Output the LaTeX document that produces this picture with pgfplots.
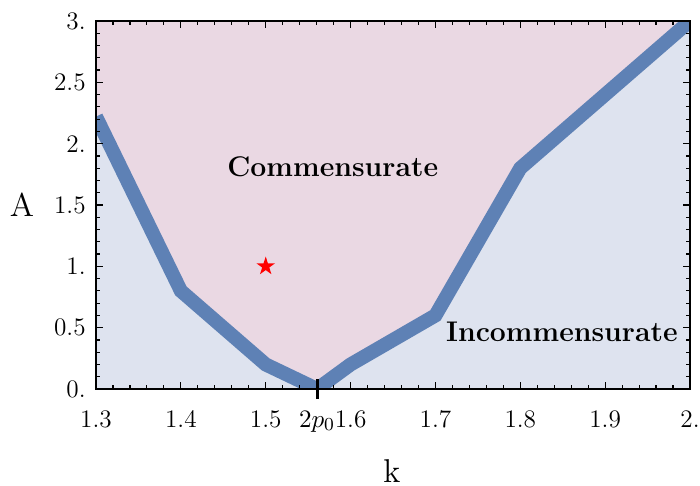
\documentclass[border=0pt]{standalone}
\usepackage{pgfplots}
\pgfplotsset{compat=1.18}
\usetikzlibrary{calc}

\definecolor{linecol}{RGB}{94,129,181}
\definecolor{pinkreg}{RGB}{234,216,227}
\definecolor{bluereg}{RGB}{222,227,239}

% filled five-point star
\pgfdeclareplotmark{fstar}{%
  \pgfpathmoveto{\pgfpointpolar{90}{\pgfplotmarksize}}%
  \pgfpathlineto{\pgfpointpolar{126}{0.382\pgfplotmarksize}}%
  \pgfpathlineto{\pgfpointpolar{162}{\pgfplotmarksize}}%
  \pgfpathlineto{\pgfpointpolar{198}{0.382\pgfplotmarksize}}%
  \pgfpathlineto{\pgfpointpolar{234}{\pgfplotmarksize}}%
  \pgfpathlineto{\pgfpointpolar{270}{0.382\pgfplotmarksize}}%
  \pgfpathlineto{\pgfpointpolar{306}{\pgfplotmarksize}}%
  \pgfpathlineto{\pgfpointpolar{342}{0.382\pgfplotmarksize}}%
  \pgfpathlineto{\pgfpointpolar{18}{\pgfplotmarksize}}%
  \pgfpathlineto{\pgfpointpolar{54}{0.382\pgfplotmarksize}}%
  \pgfpathclose
  \pgfusepathqfill
}

\begin{document}
\begin{tikzpicture}
  \begin{axis}[
    name=ax,
    scale only axis,
    width=258.26bp, height=160bp,
    xmin=1.3, xmax=2, ymin=0, ymax=3,
    xtick={1.3,1.4,1.5,1.6,1.7,1.8,1.9,2.0},
    xticklabels={1.3,1.4,1.5,1.6,1.7,1.8,1.9,2.},
    ytick={0,0.5,1,1.5,2,2.5,3},
    yticklabels={0.,0.5,1.,1.5,2.,2.5,3.},
    minor x tick num=4, minor y tick num=4,
    tick align=inside,
    major tick length=3bp, minor tick length=1.7bp,
    every tick/.style={black, line width=0.5bp},
    axis line style={line width=0.6bp},
    tick label style={font=\fontsize{11}{13}\selectfont},
    xticklabel style={yshift=-6bp},
    yticklabel style={xshift=-1bp},
    axis background/.style={fill=pinkreg},
    extra x ticks={1.5605},
    extra x tick labels={$2p_0$},
    extra x tick style={xtick pos=left, tick align=center,
      major tick length=8.7bp, tick style={line width=1.3bp, black},
      xticklabel style={yshift=4.35bp}},
    xlabel={k}, ylabel={A},
    label style={font=\Large},
    ylabel style={rotate=-90, at={(axis description cs:-0.1246,0.5)}, anchor=center},
    xlabel style={at={(axis description cs:0.498,-0.223)}, anchor=center, inner sep=1pt},
    axis on top,
  ]
    % incommensurate region (below the boundary)
    \addplot[draw=none, fill=bluereg] coordinates {
      (1.3,2.22) (1.4,0.8) (1.5,0.2) (1.5605,0) (1.6,0.2) (1.7,0.6) (1.8,1.8) (2.0,3.0)
    } \closedcycle;
    % phase boundary
    \addplot[linecol, line width=6.1bp] coordinates {
      (1.3,2.22) (1.4,0.8) (1.5,0.2) (1.5605,0) (1.6,0.2) (1.7,0.6) (1.8,1.8) (2.0,3.0)
    };
    % marked point
    \addplot[only marks, mark=fstar, mark size=4.25bp, red] coordinates {(1.5,1.0)};

    \node[font=\fontsize{12.4}{15}\selectfont\bfseries] at (axis cs:1.579,1.81) {Commensurate};
    \node[font=\fontsize{12.4}{15}\selectfont\bfseries] at (axis cs:1.849,0.467) {Incommensurate};
  \end{axis}
  \pgfresetboundingbox
  \path ($(ax.south west)+(-41.74bp,-41.74bp)$) rectangle ($(ax.north east)+(4.35bp,9.13bp)$);
\end{tikzpicture}
\end{document}
